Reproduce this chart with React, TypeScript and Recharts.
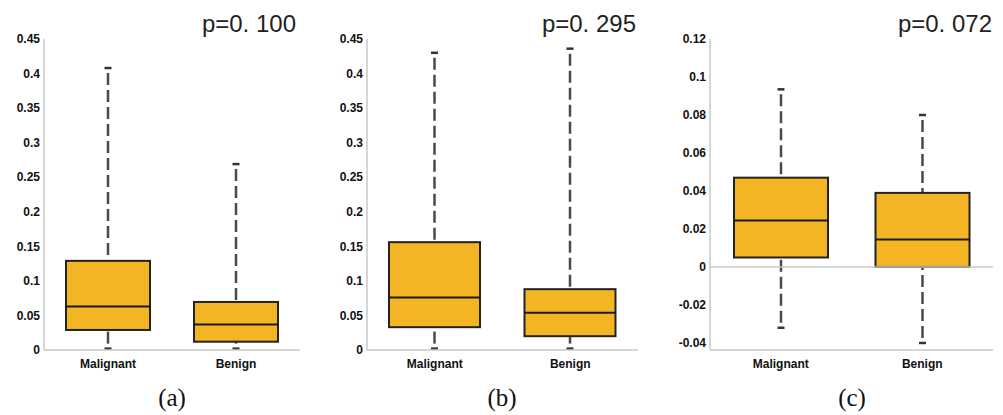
import React from 'react';
import { ComposedChart, Bar, XAxis, YAxis, ReferenceLine } from 'recharts';

const categories = ['Malignant', 'Benign'];

const aMin = [0.002, 0.002];
const aQ1 = [0.029, 0.012];
const aMed = [0.063, 0.037];
const aQ3 = [0.129, 0.0695];
const aMax = [0.408, 0.269];

const bMin = [0.002, 0.002];
const bQ1 = [0.033, 0.02];
const bMed = [0.076, 0.054];
const bQ3 = [0.156, 0.088];
const bMax = [0.43, 0.436];

const cMin = [-0.032, -0.04];
const cQ1 = [0.005, 0];
const cMed = [0.0245, 0.0145];
const cQ3 = [0.047, 0.039];
const cMax = [0.0935, 0.08];

const abTicks = [0, 0.05, 0.1, 0.15, 0.2, 0.25, 0.3, 0.35, 0.4, 0.45];
const cTicks = [-0.04, -0.02, 0, 0.02, 0.04, 0.06, 0.08, 0.1, 0.12];

const pLabels = ['p=0. 100', 'p=0. 295', 'p=0. 072'];
const panelLabels = ['(a)', '(b)', '(c)'];

const build = (mn: number[], q1: number[], md: number[], q3: number[], mx: number[]) =>
  categories.map((name, i) => ({
    name,
    min: mn[i],
    q1: q1[i],
    median: md[i],
    q3: q3[i],
    max: mx[i],
    range: [q1[i], q3[i]],
  }));

const FILL = '#F3B523';
const GRID = '#c9c9c9';
const SANS = '"Liberation Sans", Arial, sans-serif';
const WHISKER = '#4a4a4a';

const BoxShape = (props: any) => {
  const { x, y, width, height } = props;
  const p = props.payload || props;
  const top = Math.min(y, y + height);
  const h = Math.abs(height);
  const ppu = h / (p.q3 - p.q1);
  const py = (v: number) => top + (p.q3 - v) * ppu;
  const cx = x + width / 2;
  return (
    <g>
      <line x1={cx} x2={cx} y1={py(p.max)} y2={py(p.q3)} stroke={WHISKER} strokeWidth={2.5} strokeDasharray="12 5" strokeDashoffset={12} />
      <line x1={cx} x2={cx} y1={py(p.min)} y2={py(p.q1)} stroke={WHISKER} strokeWidth={2.5} strokeDasharray="12 5" strokeDashoffset={12} />
      <line x1={cx - 3.5} x2={cx + 3.5} y1={py(p.max)} y2={py(p.max)} stroke="#333" strokeWidth={2.5} />
      <line x1={cx - 3.5} x2={cx + 3.5} y1={py(p.min)} y2={py(p.min)} stroke="#333" strokeWidth={2.5} />
      <rect x={x} y={top} width={width} height={h} fill={FILL} stroke="#222" strokeWidth={2} />
      <line x1={x} x2={x + width} y1={py(p.median)} y2={py(p.median)} stroke="#1a1a1a" strokeWidth={2} />
    </g>
  );
};

type PanelProps = {
  data: any[];
  left: number;
  width: number;
  yWidth: number;
  rightMargin: number;
  domain: [number, number];
  ticks: number[];
  barSize: number;
  zeroLine?: boolean;
};

const Panel = ({ data, left, width, yWidth, rightMargin, domain, ticks, barSize, zeroLine }: PanelProps) => (
  <div style={{ position: 'absolute', left, top: 0 }}>
    <ComposedChart width={width} height={415} data={data} margin={{ top: 39, right: rightMargin, bottom: 45, left: 0 }}>
      <XAxis
        dataKey="name"
        xAxisId="bottom"
        height={20}
        interval={0}
        tickLine={false}
        tickSize={6}
        tickMargin={3}
        axisLine={{ stroke: GRID, strokeWidth: 1.5 }}
        tick={{ fontFamily: SANS, fontSize: 12, fontWeight: 'bold', fill: '#111' }}
      />
      <XAxis dataKey="name" xAxisId="top" orientation="top" height={0} tick={false} tickLine={false} axisLine={{ stroke: GRID, strokeWidth: 1.5 }} />
      <YAxis
        yAxisId="left"
        type="number"
        width={yWidth}
        domain={domain}
        ticks={ticks}
        interval={0}
        tickLine={false}
        tickSize={2}
        tickMargin={2}
        axisLine={{ stroke: GRID, strokeWidth: 1.5 }}
        tick={{ fontFamily: SANS, fontSize: 12, fontWeight: 'bold', fill: '#111' }}
      />
      <YAxis yAxisId="right" orientation="right" type="number" width={0} domain={domain} tick={false} tickLine={false} axisLine={{ stroke: GRID, strokeWidth: 1.5 }} />
      {zeroLine && <ReferenceLine y={0} xAxisId="bottom" yAxisId="left" stroke={GRID} strokeWidth={1.5} />}
      <Bar dataKey="range" xAxisId="bottom" yAxisId="left" barSize={barSize} shape={BoxShape} isAnimationActive={false} />
    </ComposedChart>
  </div>
);

const titleStyle = (right: number): React.CSSProperties => ({
  position: 'absolute',
  top: 11.7,
  right: 1003 - right,
  fontFamily: SANS,
  fontSize: 24,
  lineHeight: '24px',
  color: '#222',
  whiteSpace: 'pre',
});

const capStyle = (center: number): React.CSSProperties => ({
  position: 'absolute',
  top: 385,
  left: center - 40,
  width: 80,
  textAlign: 'center',
  fontFamily: '"Liberation Serif", "Times New Roman", serif',
  fontSize: 25,
  lineHeight: '25px',
  color: '#111',
});

export default function App() {
  const dataA = build(aMin, aQ1, aMed, aQ3, aMax);
  const dataB = build(bMin, bQ1, bMed, bQ3, bMax);
  const dataC = build(cMin, cQ1, cMed, cQ3, cMax);
  return (
    <div style={{ position: 'absolute', left: 0, top: 0, width: 1003, height: 415, background: '#fff', overflow: 'hidden' }}>
      <Panel data={dataA} left={0} width={310} yWidth={44} rightMargin={10} domain={[0, 0.45]} ticks={abTicks} barSize={84} />
      <Panel data={dataB} left={320} width={330} yWidth={47} rightMargin={12} domain={[0, 0.45]} ticks={abTicks} barSize={91} />
      <Panel data={dataC} left={660} width={343} yWidth={50} rightMargin={10} domain={[-0.0437, 0.12]} ticks={cTicks} barSize={94} zeroLine />
      <div style={titleStyle(296)}>{pLabels[0]}</div>
      <div style={titleStyle(636)}>{pLabels[1]}</div>
      <div style={titleStyle(992)}>{pLabels[2]}</div>
      <div style={capStyle(172)}>{panelLabels[0]}</div>
      <div style={capStyle(502)}>{panelLabels[1]}</div>
      <div style={capStyle(852)}>{panelLabels[2]}</div>
    </div>
  );
}
